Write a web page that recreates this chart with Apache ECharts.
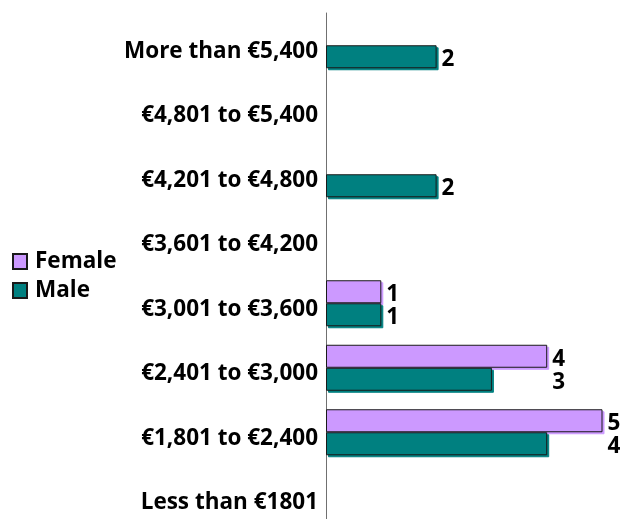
<!DOCTYPE html>
<html>
<head>
<meta charset="utf-8">
<script src="https://cdn.jsdelivr.net/npm/echarts@6/dist/echarts.min.js"></script>
<style>
  html, body { margin: 0; padding: 0; background: #fff; }
  #chart { width: 626px; height: 519px; }
</style>
</head>
<body>
<div id="chart"></div>
<script>
// categories bottom to top
const categories = ['Less than €1801', '€1,801 to €2,400', '€2,401 to €3,000', '€3,001 to €3,600',
  '€3,601 to €4,200', '€4,201 to €4,800', '€4,801 to €5,400', 'More than €5,400'];
const femaleValues = [null, 5, 4, 1, null, null, null, null];
const maleValues = [null, 4, 3, 1, null, 2, null, 2];

const FONT = 'Open Sans';
const femaleColor = '#cc99ff';
const maleColor = '#008080';

var myChart = echarts.init(document.getElementById('chart'));

const barStyle = (c) => ({
  color: c,
  borderColor: '#1a1a1a',
  borderWidth: 1,
  shadowColor: c,
  shadowBlur: 0,
  shadowOffsetX: 2,
  shadowOffsetY: 2
});

const labelStyle = {
  show: true,
  position: 'right',
  distance: 5,
  offset: [0, 3],
  color: '#000',
  fontFamily: FONT,
  fontWeight: 'bold',
  fontSize: 22.5
};

var option = {
  animation: false,
  // plot area runs a little past the bottom edge, like the original
  grid: { left: 326, width: 276.5, top: 13, height: 516, outerBoundsMode: 'none' },
  legend: {
    data: ['Female', 'Male'],
    orient: 'vertical',
    left: 7,
    top: 245,
    itemWidth: 14,
    itemHeight: 15,
    itemGap: 6,
    icon: 'rect',
    textStyle: { fontFamily: FONT, fontWeight: 'bold', fontSize: 22.5, color: '#000', padding: [0, 0, 0, 3] }
  },
  xAxis: {
    type: 'value',
    min: 0,
    max: 5,
    show: false
  },
  yAxis: {
    type: 'category',
    data: categories,
    axisLine: { lineStyle: { color: '#707070', width: 1 } },
    axisTick: { show: false },
    axisLabel: {
      margin: 8,
      color: '#000',
      fontFamily: FONT,
      fontWeight: 'bold',
      fontSize: 22.5,
      verticalAlign: 'top',
      lineHeight: 12
    }
  },
  series: [
    {
      name: 'Female',
      type: 'bar',
      data: femaleValues,
      barWidth: 23,
      barGap: '0%',
      itemStyle: barStyle(femaleColor),
      label: labelStyle
    },
    {
      name: 'Male',
      type: 'bar',
      data: maleValues,
      barWidth: 23,
      barGap: '0%',
      itemStyle: barStyle(maleColor),
      label: labelStyle
    }
  ]
};
myChart.setOption(option);

// male labels sit at the end of the longer bar in each category
var px = (v) => myChart.convertToPixel({ xAxisIndex: 0 }, v);
var maleData = maleValues.map((v, i) => {
  if (v == null) return v;
  var top = Math.max(v, femaleValues[i] || 0);
  return { value: v, label: { offset: [px(top) - px(v), 3] } };
});
myChart.setOption({ series: [{ name: 'Male', data: maleData }] });
</script>
</body>
</html>
